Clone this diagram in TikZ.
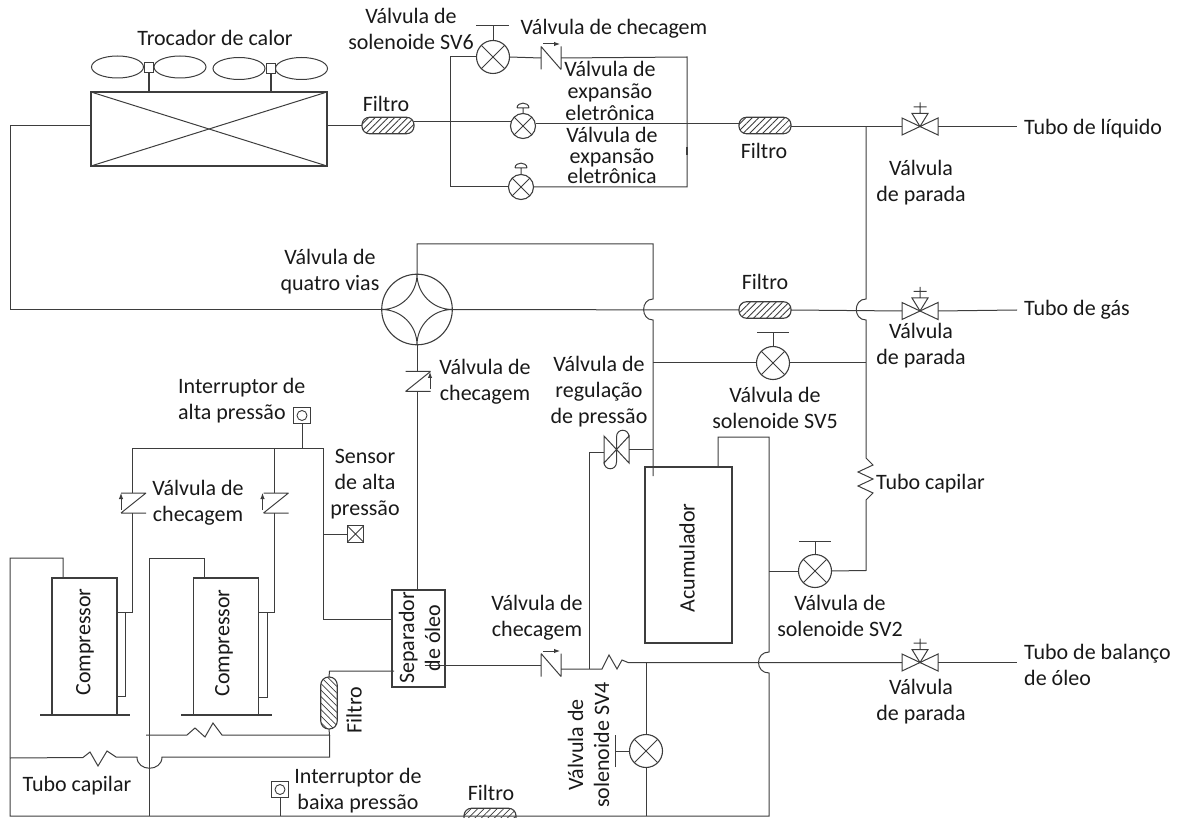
\documentclass[tikz,border=0pt]{standalone}
\usepackage{fontspec}
\setmainfont{Carlito}
\usetikzlibrary{patterns.meta,shapes.geometric,arrows.meta}
\definecolor{pipe}{gray}{0.24}
\tikzset{
  pipeline/.style={draw=pipe,line width=1pt,line join=miter},
  thin pipe/.style={draw=pipe,line width=1pt},
  sol/.style={circle,draw=pipe,line width=1.1pt,minimum size=33pt,inner sep=0pt,outer sep=0pt,
    path picture={\draw[pipe,line width=1pt] (path picture bounding box.north west)--(path picture bounding box.south east)
      (path picture bounding box.north east)--(path picture bounding box.south west);}},
  eev/.style={sol,minimum size=25pt},
  hatchbox/.style={draw=pipe,line width=1.1pt,rounded corners=7.5pt,inner sep=0pt,outer sep=0pt,fill=white,
    pattern={Lines[angle=45,distance=4.6pt,line width=.8pt]},pattern color=pipe},
  filterh/.style={hatchbox,minimum width=52pt,minimum height=16.5pt},
  filterv/.style={hatchbox,minimum width=16.5pt,minimum height=52pt,rounded corners=8pt,
    pattern={Lines[angle=-45,distance=4.6pt,line width=.8pt]}},
  box/.style={draw=pipe,line width=1.2pt,inner sep=0pt,outer sep=0pt},
  lbl/.style={font=\fontsize{22pt}{26pt}\selectfont,inner sep=0pt,align=center,text=black!90},
  lblv/.style={lbl,rotate=90},
  ghost/.style={inner sep=0pt,outer sep=0pt,rectangle},
  fanblade/.style={ellipse,draw=pipe,line width=1pt,minimum width=52pt,minimum height=22pt,inner sep=0pt,outer sep=0pt},
  fanhub/.style={rectangle,draw=pipe,line width=1pt,minimum size=9.5pt,inner sep=0pt,outer sep=0pt,fill=white},
  flowtip/.style={draw=pipe,line width=1pt,-{Latex[length=6pt,width=4.5pt]}},
}
\newcommand\StopValve[3]{%
  \node[ghost,minimum width=36pt,minimum height=17pt] (#1) at (#2,#3) {};
  \begin{scope}[shift={(#2,#3)}]
    \draw[pipe,line width=1pt] (-18,-8.5)--(18,8.5)--(18,-8.5)--(-18,8.5)--cycle;
    \draw[pipe,line width=1pt] (0,0)--(-8,-13)--(8,-13)--cycle (0,-13)--(0,-24) (-6.5,-19.5)--(6.5,-19.5);
  \end{scope}}
\newcommand\CheckH[3]{%
  \node[ghost,minimum width=20pt,minimum height=23pt] (#1) at (#2,#3) {};
  \begin{scope}[shift={(#2,#3)}]
    \draw[pipe,line width=1pt] (-10,-11.5)--(-10,11.5) (10,-11.5)--(10,11.5) (-10,-11.5)--(10,11.5);
    \draw[flowtip] (-8,-14)--(9,-14);
  \end{scope}}
\newcommand\CheckV[3]{%
  \node[ghost,minimum width=26pt,minimum height=20pt] (#1) at (#2,#3) {};
  \begin{scope}[shift={(#2,#3)}]
    \draw[pipe,line width=1pt] (-12,-10)--(13,-10) (-12,10)--(13,10) (-12,10)--(13,-10);
  \end{scope}}
\newcommand\Dome[2]{%
  \begin{scope}[shift={(#1,#2)}]
    \draw[pipe,line width=1pt] (-6,0)--(6,0) (-6,0) .. controls (-6,-6.5) and (6,-6.5) .. (6,0) (0,0)--(0,6);
  \end{scope}}
\begin{document}
\begin{tikzpicture}[x=1pt,y=-1pt]
\useasboundingbox (0,0) rectangle (1184,818);
\clip (0,0) rectangle (1184,818);

% ---------- heat exchanger ----------
\node[box,minimum width=236pt,minimum height=74pt] (hx) at (209,129) {};
\draw[pipe,line width=1pt] (hx.north west)--(hx.south east) (hx.north east)--(hx.south west);
\node[fanblade] (f1a) at (117.5,67) {};
\node[fanblade] (f1b) at (180,67) {};
\node[fanhub] (h1) at (149,67.5) {};
\node[fanblade] (f2a) at (239,68.5) {};
\node[fanblade] (f2b) at (301.5,68.5) {};
\node[fanhub] (h2) at (271,68.5) {};
\draw[pipe,line width=1.2pt] (h1.south)--(h1.south|-hx.north) (h2.south)--(h2.south|-hx.north);

% ---------- components ----------
\node[filterh] (flt1) at (388,125.5) {};
\node[filterh] (flt2) at (765,125.5) {};
\node[filterh] (flt3) at (765,310) {};
\node[filterh] (flt4) at (490,816.5) {};
\node[filterv] (flt5) at (329,703) {};

\node[sol] (sv6) at (493,57) {};
\node[eev] (eev1) at (523,126) {};
\node[eev] (eev2) at (521,187) {};
\node[sol] (sv5) at (773,363) {};
\node[sol] (sv2) at (815,571) {};
\node[sol] (sv4) at (646,751) {};
\Dome{523}{108}
\Dome{521}{168}

\coordinate (b6) at (493,26);
\coordinate (b5) at (773,333);
\coordinate (b2) at (815,541);
\coordinate (b4) at (615,751);
\draw[thin pipe] (sv6.north)--(b6) ([xshift=-17pt]b6)--([xshift=16pt]b6);
\draw[thin pipe] (sv5.north)--(b5) ([xshift=-16pt]b5)--([xshift=16pt]b5);
\draw[thin pipe] (sv2.north)--(b2) ([xshift=-16pt]b2)--([xshift=16pt]b2);
\draw[thin pipe] (sv4.west)--(b4) ([yshift=-16pt]b4)--([yshift=16pt]b4);

\CheckH{chk1}{551}{58}
\CheckH{chk2}{551}{665}
\CheckV{chk3}{417.5}{381.5}
\CheckV{chk4}{133}{503}
\CheckV{chk5}{275.5}{503}
\draw[flowtip] (430,389)--(430,372);
\draw[flowtip] (121,510)--(121,493);
\draw[flowtip] (262.5,510)--(262.5,493);

\StopValve{st1}{920}{126.5}
\StopValve{st2}{920}{311}
\StopValve{st3}{920}{662.5}

% four-way valve
\node[circle,draw=pipe,line width=1.1pt,minimum size=70.6pt,inner sep=0pt,outer sep=0pt] (fw) at (417,309.5) {};
\draw[pipe,line width=1pt]
  (fw.north) .. controls +(0,19.5) and +(-19.5,0) .. (fw.east)
  .. controls +(-19.5,0) and +(0,-19.5) .. (fw.south)
  .. controls +(0,-19.5) and +(19.5,0) .. (fw.west)
  .. controls +(19.5,0) and +(0,19.5) .. (fw.north);

% pressure regulating valve
\node[ghost,minimum width=25pt,minimum height=27pt] (prv) at (616.5,449.5) {};
\draw[pipe,line width=1pt]
  (prv.north west)--(prv.south east)--(prv.north east)--(prv.south west)--cycle;
\begin{scope}[shift={(616.5,449.5)}]
  \draw[pipe,line width=1pt] (0,0)--(0,-12.5) .. controls (0,-21.5) and (12.5,-21.5) .. (12.5,-12.5);
  \draw[pipe,line width=1pt] (0,0)--(0,12.5) .. controls (0,21.5) and (-12.5,21.5) .. (-12.5,12.5);
\end{scope}

% oil separator, accumulator, compressors
\node[box,minimum width=53pt,minimum height=97pt] (sep) at (418.5,638.5) {};
\node[box,minimum width=87pt,minimum height=176pt] (acc) at (688.5,555) {};
\node[box,minimum width=65pt,minimum height=137pt] (c1) at (84.5,646.5) {};
\node[box,minimum width=65pt,minimum height=137pt] (c2) at (226,646.5) {};
\draw[pipe,line width=1.2pt] (40,715)--(c1.south)--(130,715) (181,715)--(c2.south)--(272,715);
\coordinate (c1a) at (117,612);
\coordinate (c1b) at (117,696);
\coordinate (c2a) at (258.5,612);
\coordinate (c2b) at (258.5,697);
\draw[pipeline] (c1a)-|(125,696)--(c1b);
\draw[pipeline] (c2a)-|(267,697)--(c2b);

% switches and sensor
\node[rectangle,draw=pipe,line width=1pt,minimum size=16.5pt,inner sep=0pt,outer sep=0pt] (hps) at (302,415.5) {};
\node[circle,draw=pipe,line width=.9pt,minimum size=10pt,inner sep=0pt] (hpsc) at (hps) {};
\node[rectangle,draw=pipe,line width=1pt,minimum size=16.5pt,inner sep=0pt,outer sep=0pt] (lps) at (280,789.5) {};
\node[circle,draw=pipe,line width=.9pt,minimum size=10pt,inner sep=0pt] (lpsc) at (lps) {};
\node[rectangle,draw=pipe,line width=1pt,minimum size=16.5pt,inner sep=0pt,outer sep=0pt] (hpsens) at (355.5,534) {};
\draw[pipe,line width=.9pt] (hpsens.north west)--(hpsens.south east) (hpsens.north east)--(hpsens.south west);

% ---------- junctions ----------
\coordinate (jl) at (866,126.5);
\coordinate (jg) at (866,309.5);
\coordinate (j53) at (653,363);
\coordinate (j86) at (866,363);
\coordinate (jb) at (323,448);
\coordinate (jbs) at (302,448);
\coordinate (j2) at (274.5,448);
\coordinate (jr) at (589,669);
\coordinate (jo) at (646,662.5);
\coordinate (jr2) at (769,571);
\coordinate (js) at (323,534);
\coordinate (jf) at (329.5,735);
\coordinate (ljb) at (10,816);
\coordinate (lj1) at (149.5,816);
\coordinate (lj2) at (280,816);
\coordinate (lj3) at (646,816);
\coordinate (lj4) at (769,816);
\coordinate (ec1) at (1017,126.5);
\coordinate (ec2) at (1017,310);
\coordinate (ec3) at (1017,662.5);

% ---------- pipes ----------
\draw[pipeline] (hx.west|-0,126)--(10,126)--(10,309.5)--(fw.west);
\draw[pipeline] (hx.east|-0,126)--(flt1.west|-0,126);
\draw[pipeline] (flt1.east|-0,122)--(eev1.west|-0,122);
\draw[pipeline] (eev1.east|-0,124)--(flt2.west|-0,124);
\draw[pipeline] (flt2.east|-0,126.5)--(jl)--(st1.west);
\draw[pipeline] (st1.east)--(ec1);
\draw[pipeline] (sv6.west)--(450,57)--(450,187)--(eev2.west);
\draw[pipeline] (sv6.east)--(chk1.west);
\draw[pipeline] (chk1.east)--(687,57)--(687,187)--(eev2.east);
\draw[pipe,line width=1.6pt] (687,147)--(687,155);
\draw[pipeline] (fw.east)--(flt3.west);
\draw[pipeline] (flt3.east)--(st2.west);
\draw[pipeline] (st2.east)--(ec2);
\draw[pipeline] (fw.north)--(417,244)--(653,244)--(653,299)
  .. controls (640.5,299) and (640.5,320) .. (653,320)--(653,476);
\draw[pipeline] (jl)--(866,299) .. controls (853,299) and (853,320) .. (866,320)--(866,458)
  --(873,465)--(858,472)--(873,479)--(858,486)--(873,493)--(866,500)--(866,570.5)--(sv2.east);
\draw[pipeline] (j53)--(sv5.west);
\draw[pipeline] (sv5.east)--(j86);
\draw[pipeline] (718,467)--(718,437)--(769,437)--(769,652)
  .. controls (755,652) and (755,673) .. (769,673)--(lj4)--(ljb)--(10,558)--(63,558)--(63,578);
\draw[pipeline] (sv2.west)--(jr2);
\draw[pipeline] (425,665)--(chk2.west);
\draw[pipeline] (chk2.east|-0,669)--(jr)--(602,669)--(609,655)--(617,669)--(622,660)--(628,662.5)--(jo)--(st3.west);
\draw[pipeline] (st3.east)--(ec3);
\draw[pipeline] (jr)--(589,452)--(prv.west|-0,452);
\draw[pipeline] (prv.east)--(653,449.5);
\draw[pipeline] (jo)--(sv4.north);
\draw[pipeline] (sv4.south)--(lj3);
\draw[pipeline] (fw.south)--(417,371.5);
\draw[pipeline] (417,391.5)--(417,590);
\draw[pipeline] (c1a)--(132,612)--(132,513);
\draw[pipeline] (132,493)--(132,448)--(jb)--(323,619)--(392,619);
\draw[pipeline] (c2a)--(274.5,612)--(274.5,513);
\draw[pipeline] (274.5,493)--(j2);
\draw[pipeline] (hps.south)--(jbs);
\draw[pipeline] (js)--(hpsens.west);
\draw[pipeline] (204.5,578)--(204.5,558)--(149.5,558)--(lj1);
\draw[pipeline] (394,671)--(329.5,671)--(flt5.north);
\draw[pipeline] (flt5.south)--(jf)--(222,735)--(213,723)--(205,737)--(195,728)--(187,735)--(146,735);
\draw[pipeline] (jf)--(329.5,757)--(162,757)
  .. controls (162,772) and (137,772) .. (137,757)
  --(116,757)--(107,751)--(98,766)--(90,752)--(83,757.5)--(10,758);
\draw[pipeline] (lps.south)--(lj2);

% ---------- texts ----------
\node[lbl] (t1) at (215,38) {Trocador de calor};
\node[lbl] (t2) at (411,29) {Válvula de\\solenoide SV6};
\node[lbl] (t3) at (614,28.5) {Válvula de checagem};
\node[lbl] (t4) at (386,104) {Filtro};
\node[lbl,font=\fontsize{22pt}{22pt}\selectfont] (t5) at (610,91) {Válvula de\\expansão\\eletrônica};
\node[lbl,font=\fontsize{22pt}{20.5pt}\selectfont] (t6) at (612,155.5) {Válvula de\\expansão\\eletrônica};
\node[lbl] (t7) at (764,151) {Filtro};
\node[lbl] (t8) at (765,282) {Filtro};
\node[lbl] (t9) at (921,183) {Válvula\\de parada};
\node[lbl,anchor=west] (t10) at (1024,128.5) {Tubo de líquido};
\node[lbl,anchor=west] (t11) at (1024,309.5) {Tubo de gás};
\node[lbl] (t12) at (921,346) {Válvula\\de parada};
\node[lbl] (t13) at (330,272) {Válvula de\\quatro vias};
\node[lbl] (t14) at (485,382) {Válvula de\\checagem};
\node[lbl,anchor=west,align=left] (t15) at (178,401) {Interruptor de\\alta pressão};
\node[lbl] (t16) at (365,484) {Sensor\\de alta\\pressão};
\node[lbl] (t17) at (198,503) {Válvula de\\checagem};
\node[lbl] (t18) at (599,392) {Válvula de\\regulação\\de pressão};
\node[lbl] (t19) at (775,408) {Válvula de\\solenoide SV5};
\node[lbl,anchor=west] (t20) at (876,483.5) {Tubo capilar};
\node[lbl] (t21) at (840,616) {Válvula de\\solenoide SV2};
\node[lbl] (t22) at (537,618) {Válvula de\\checagem};
\node[lblv] (t23) at (687,558) {Acumulador};
\node[lblv] (t24) at (85,642) {Compressor};
\node[lblv] (t25) at (224,643) {Compressor};
\node[lblv] (t26) at (419.5,638) {Separador\\de óleo};
\node[lblv] (t27) at (354,710) {Filtro};
\node[lbl] (t28) at (77,785.5) {Tubo capilar};
\node[lbl] (t29) at (358,790.5) {Interruptor de\\baixa pressão};
\node[lbl] (t30) at (491,793) {Filtro};
\node[lblv] (t31) at (588.5,745) {Válvula de\\solenoide SV4};
\node[lbl,anchor=west,align=left] (t32) at (1024,665) {Tubo de balanço\\de óleo};
\node[lbl] (t33) at (921,702) {Válvula\\de parada};
\end{tikzpicture}
\end{document}
